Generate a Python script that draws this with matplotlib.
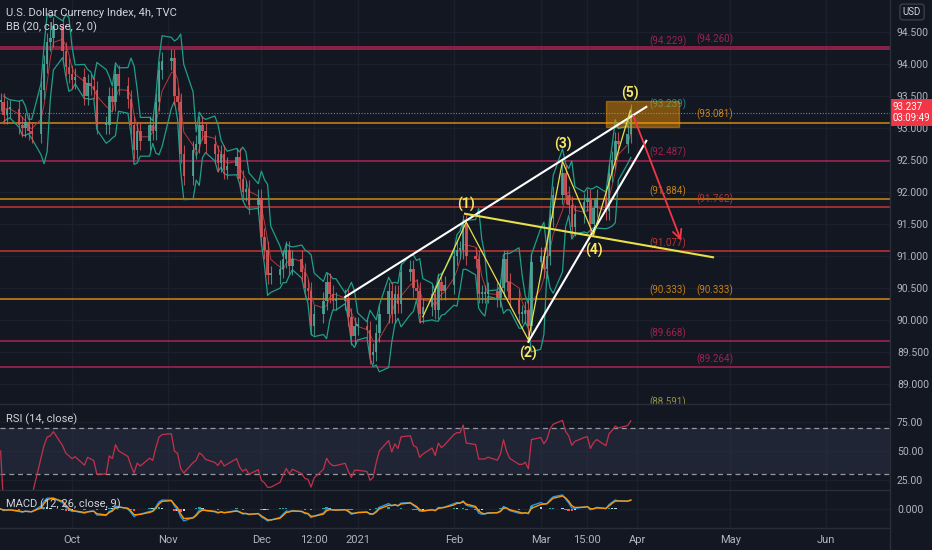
import numpy as np
import pandas as pd
import matplotlib
matplotlib.use("Agg")
import matplotlib.pyplot as plt
import matplotlib.dates as mdates
from matplotlib.lines import Line2D
from matplotlib.patches import Rectangle
from matplotlib.transforms import blended_transform_factory

plt.rcParams["font.family"] = ["Roboto", "DejaVu Sans"]

# ---- data (daily closes, business days) ----
closes_sep = [93.40, 93.20, 93.30, 93.30, 93.05, 93.00, 93.10, 92.95, 92.90, 93.60,
              94.00, 94.35, 94.40, 94.60, 94.20, 93.95, 93.85]
closes_oct = [93.75, 93.80, 93.50, 93.70, 93.65, 93.60, 93.05, 93.05, 93.50, 93.40,
              93.85, 93.65, 93.45, 93.05, 92.65, 92.95, 92.80, 93.05, 92.95, 93.40,
              93.90, 94.05]
closes_nov = [94.10, 93.50, 93.40, 92.60, 92.25, 92.65, 92.75, 93.05, 92.95, 92.75,
              92.60, 92.45, 92.60, 92.35, 92.40, 92.55, 92.20, 92.00, 92.05, 91.80,
              91.90]
closes_dec = [91.30, 91.10, 90.70, 90.70, 90.80, 90.95, 91.10, 90.85, 90.95, 90.75,
              90.50, 90.45, 89.90, 90.10, 90.30, 90.60, 90.40, 90.30, 90.30, 90.35,
              90.05, 89.75, 89.90]
closes_jan = [89.90, 89.85, 89.45, 89.50, 89.80, 90.10, 90.45, 90.10, 90.40, 90.25,
              90.75, 90.80, 90.50, 90.45, 90.10, 90.20, 90.40, 90.15, 90.60, 90.45,
              90.55]
closes_feb = [91.00, 91.10, 91.10, 91.50, 91.00, 90.95, 90.40, 90.40, 90.40, 90.45,
              90.35, 90.50, 90.95, 90.60, 90.35, 90.10, 90.10, 90.15, 89.90, 90.90]
closes_mar = [91.00, 90.80, 91.00, 91.60, 91.95, 92.30, 91.95, 91.80, 91.45, 91.65,
              91.85, 91.90, 91.50, 91.75, 91.90, 91.70, 92.30, 92.50, 92.80, 92.75,
              92.90, 93.24]

# horizontal levels
level_prices = [94.229, 94.260, 93.081, 92.487, 91.884, 91.762, 91.077, 90.333, 89.668, 89.264]
level_kinds = ["crimson", "crimson", "orange", "crimson", "orange", "red", "red", "orange", "crimson", "crimson"]
left_labels = [("(94.229)", 94.229, "crimson"), ("(93.239)", 93.239, "teal"),
               ("(92.487)", 92.487, "crimson"), ("(91.884)", 91.884, "orange"),
               ("(91.077)", 91.077, "red"), ("(90.333)", 90.333, "orange"),
               ("(89.668)", 89.668, "crimson"), ("(88.591)", 88.591, "olive")]
right_labels = [("(94.260)", 94.260, "crimson"), ("(93.081)", 93.081, "orange"),
                ("(91.762)", 91.762, "red"), ("(90.333)", 90.333, "orange"),
                ("(89.264)", 89.264, "crimson")]
last_price = 93.237

# drawings
upper_wedge_dates = ["2020-12-28", "2021-04-04"]
upper_wedge_prices = [90.36, 93.33]
lower_wedge_dates = ["2021-02-25", "2021-04-04"]
lower_wedge_prices = [89.66, 92.80]
trend_dates = ["2021-02-04 14:00", "2021-04-25 12:00"]
trend_prices = [91.66, 90.98]
wave_dates = ["2021-01-22", "2021-02-05", "2021-02-25", "2021-03-08", "2021-03-18", "2021-03-29 20:00"]
wave_prices = [90.05, 91.53, 89.69, 92.48, 91.33, 93.27]
wave_names = ["(1)", "(2)", "(3)", "(4)", "(5)"]
wave_label_prices = [91.80, 89.48, 92.74, 91.08, 93.54]
arrow_dates = ["2021-03-30 12:00", "2021-04-15 12:00"]
arrow_prices = [93.23, 91.20]
box_dates = ["2021-03-22", "2021-04-14 14:00"]
box_prices = [93.02, 93.42]

tick_dates = ["2020-10-01", "2020-11-01", "2020-12-01", "2020-12-18", "2021-01-01",
              "2021-02-01", "2021-03-01", "2021-03-16", "2021-04-01", "2021-05-01", "2021-06-01"]
tick_labels = ["Oct", "Nov", "Dec", "12:00", "2021", "Feb", "Mar", "15:00", "Apr", "May", "Jun"]

# ---- derived series ----
days = pd.bdate_range("2020-09-08", "2021-03-30")
close = pd.Series(closes_sep + closes_oct + closes_nov + closes_dec + closes_jan + closes_feb + closes_mar,
                  index=days)
opn = close.shift(1).fillna(close.iloc[0])
x = mdates.date2num(days.to_pydatetime())

basis = close.rolling(4, min_periods=2).mean()
dev = close.rolling(4, min_periods=2).std(ddof=0)
bb_up = basis + 2 * dev
bb_lo = basis - 2 * dev

delta = close.diff()
gain = delta.clip(lower=0).ewm(alpha=1 / 9, adjust=False).mean()
loss = (-delta.clip(upper=0)).ewm(alpha=1 / 9, adjust=False).mean()
rsi = 100 - 100 / (1 + gain / loss.replace(0, np.nan))
rsi = rsi.fillna(50)

macd = close.ewm(span=3, adjust=False).mean() - close.ewm(span=6, adjust=False).mean()
signal = macd.ewm(span=2, adjust=False).mean()
hist = macd - signal

# ---- styling ----
BG = "#131722"
GRID = "#1c202c"
TXT = "#b2b5be"
SEP = "#2a2e39"
COL = {"crimson": "#c2255c", "orange": "#f39c12", "red": "#e53935", "teal": "#26a69a", "olive": "#b5b24a"}

W, H = 932, 550


def rect(x0, y0, x1, y1):
    return [x0 / W, 1 - y1 / H, (x1 - x0) / W, (y1 - y0) / H]


def dn(ds):
    return mdates.date2num(pd.to_datetime(ds, format="mixed").to_pydatetime())


fig = plt.figure(figsize=(W / 100, H / 100), dpi=100, facecolor=BG)
ax = fig.add_axes(rect(0, 0, 890, 404))
ax_rsi = fig.add_axes(rect(0, 404, 890, 490))
ax_macd = fig.add_axes(rect(0, 490, 890, 528))

oct1 = mdates.date2num(pd.Timestamp("2020-10-01"))
xlim = (oct1 - 23.2, oct1 + 263.5)
tx = dn(tick_dates)

for a in (ax, ax_rsi, ax_macd):
    a.set_facecolor(BG)
    for s in a.spines.values():
        s.set_visible(False)
    a.set_xlim(*xlim)
    a.set_xticks(tx)
    a.yaxis.tick_right()
    a.tick_params(axis="y", length=0, pad=5, labelsize=7.5, labelcolor=TXT)
    a.tick_params(axis="x", length=0, labelbottom=False)
    a.grid(True, color=GRID, lw=0.9)
    a.set_axisbelow(True)

ax_macd.set_xticklabels(tick_labels)
ax_macd.tick_params(axis="x", labelbottom=True, pad=5, labelsize=8, labelcolor=TXT)

# main panel
ax.set_ylim(88.6875, 95.0)
ax.set_yticks(np.arange(89.0, 94.51, 0.5))
ax.yaxis.set_major_formatter(plt.FormatStrFormatter("%.3f"))

for p, k in zip(level_prices, level_kinds):
    ax.axhline(p, color=COL[k], lw=1.1, alpha=0.85, zorder=1)
ax.axhline(last_price, color="#26a69a", lw=0.8, ls=(0, (1, 1.5)), zorder=1)

lx = dn(["2021-04-11"])[0]
rx = dn(["2021-04-26"])[0]
for txt, p, k in left_labels:
    ax.text(lx, p + 0.04, txt, color=COL[k], alpha=0.8, fontsize=7, ha="center", va="bottom", clip_on=True)
for txt, p, k in right_labels:
    ax.text(rx, p + 0.04, txt, color=COL[k], alpha=0.8, fontsize=7, ha="center", va="bottom", clip_on=True)

# bollinger bands
ax.plot(x, bb_up, color="#1f9e89", lw=0.9, zorder=2)
ax.plot(x, bb_lo, color="#1f9e89", lw=0.9, zorder=2)
ax.plot(x, basis, color="#b33a3a", lw=0.7, zorder=2)

# candles
up = close >= opn
ccol = np.where(up, "#4fa89a", "#d9575a")
wick = 0.14
ax.vlines(x, np.minimum(opn, close) - wick, np.maximum(opn, close) + wick, color=ccol, lw=0.8, alpha=0.8, zorder=3)
ax.bar(x, (close - opn).abs().clip(lower=0.03), bottom=np.minimum(opn, close), width=0.8,
       color=ccol, alpha=0.85, zorder=3)

# drawings
bd = dn(box_dates)
ax.add_patch(Rectangle((bd[0], box_prices[0]), bd[1] - bd[0], box_prices[1] - box_prices[0],
                       facecolor="#ff9800", alpha=0.45, edgecolor="#ff9800", lw=1, zorder=4))
ax.plot(dn(upper_wedge_dates), upper_wedge_prices, color="white", lw=1.5, zorder=5)
ax.plot(dn(lower_wedge_dates), lower_wedge_prices, color="white", lw=1.5, zorder=5)
ax.plot(dn(trend_dates), trend_prices, color="#e8e04a", lw=1.5, zorder=5)
ax.plot(dn(wave_dates), wave_prices, color="#e8e04a", lw=0.9, zorder=5)
for d, p, name in zip(dn(wave_dates)[1:], wave_label_prices, wave_names):
    ax.text(d, p, name, color="#f5e663", fontsize=10, fontweight="bold", ha="center", va="center", zorder=6)
ad = dn(arrow_dates)
ax.annotate("", xy=(ad[1], arrow_prices[1]), xytext=(ad[0], arrow_prices[0]),
            arrowprops=dict(arrowstyle="->", color="#f23645", lw=1.3, mutation_scale=16), zorder=6)

trans = blended_transform_factory(ax.transAxes, ax.transData)
ax.text(1.003, last_price, "93.237\n03:09:49", transform=trans, color="white", fontsize=7,
        ha="left", va="center", linespacing=1.15,
        bbox=dict(boxstyle="square,pad=0.3", facecolor="#f23645", edgecolor="none"), clip_on=False)

# RSI panel
ax_rsi.set_ylim(15.8, 91.2)
ax_rsi.set_yticks([25, 50, 75])
ax_rsi.yaxis.set_major_formatter(plt.FormatStrFormatter("%.2f"))
ax_rsi.axhspan(30, 70, color="#2a3245", alpha=0.55, lw=0)
for lvl in (70, 30):
    ax_rsi.axhline(lvl, color="#9598a1", lw=0.9, ls=(0, (4, 3)))
ax_rsi.plot(x, rsi, color="#c4314b", lw=0.9)

# MACD panel
m = float(np.nanmax(np.abs(np.r_[macd.values, signal.values])))
ax_macd.set_ylim(-1.35 * m, 1.35 * m)
ax_macd.set_yticks([0])
ax_macd.set_yticklabels(["0.000"])
hprev = hist.shift(1).fillna(0)
hcol = np.where(hist >= 0, np.where(hist >= hprev, "#26a69a", "#b2dfdb"),
                np.where(hist < hprev, "#ff5252", "#ffcdd2"))
ax_macd.bar(x, hist, width=0.8, color=hcol)
ax_macd.plot(x, macd, color="#2196f3", lw=1.0)
ax_macd.plot(x, signal, color="#ff9800", lw=1.0)

# separators and legends
for yy in (404, 490, 528):
    fig.add_artist(Line2D([0, 890 / W], [1 - yy / H, 1 - yy / H], color=SEP, lw=1))
fig.add_artist(Line2D([890 / W, 890 / W], [0, 1], color=SEP, lw=1))

fig.text(6 / W, 1 - 13 / H, "U.S. Dollar Currency Index, 4h, TVC", color="#d1d4dc", fontsize=8, va="center")
fig.text(6 / W, 1 - 27 / H, "BB (20, close, 2, 0)", color="#d1d4dc", fontsize=8, va="center")
fig.text(6 / W, 1 - 419 / H, "RSI (14, close)", color="#d1d4dc", fontsize=8, va="center")
fig.text(6 / W, 1 - 504 / H, "MACD (12, 26, close, 9)", color="#d1d4dc", fontsize=8, va="center")
fig.text(912 / W, 1 - 12 / H, "USD", color="#d1d4dc", fontsize=7, ha="center", va="center",
         bbox=dict(boxstyle="round,pad=0.3", facecolor=BG, edgecolor="#434651", lw=0.8))

fig.savefig("out.png", dpi=100, facecolor=BG)
